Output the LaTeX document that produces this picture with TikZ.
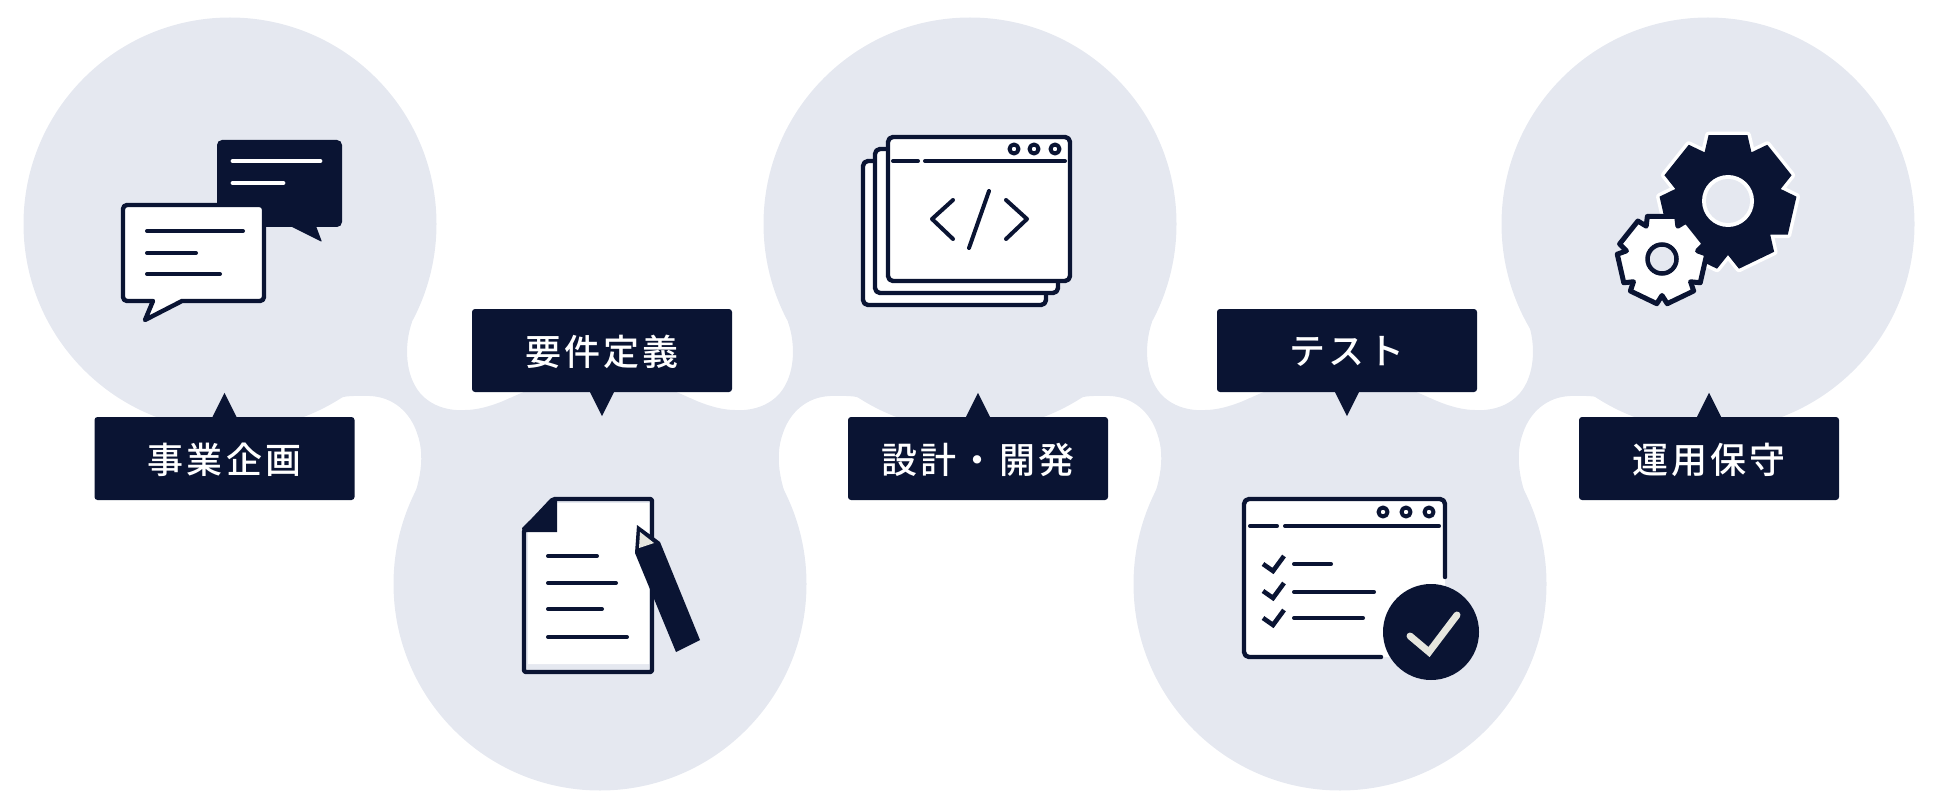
\documentclass[tikz,border=0pt]{standalone}
\usepackage{fontspec}
\newfontfamily\tagfont{Noto Sans CJK JP Medium}[LetterSpace=9]
\definecolor{navy}{HTML}{0A1433}
\definecolor{bubblegrey}{HTML}{E5E8F0}
\definecolor{ticklight}{HTML}{E6E6DE}

\newcommand{\neckshape}{%
  \fill[bubblegrey] (412,322) .. controls (404,345) and (405,375) .. (420,393)
    .. controls (432,407) and (450,411) .. (465,410)
    .. controls (480,410) and (497,404) .. (510,398) -- (600,584) -- (405,520)
    .. controls (418,490) and (427,460) .. (417,433)
    .. controls (410,412) and (393,397) .. (370,396)
    .. controls (355,396) and (345,395) .. (333,400) -- (230,224) -- cycle;}
\newcommand{\gearshape}[3]{%
  (270-25.7:#1) \foreach \a in {270,321.43,372.86,424.29,475.71,527.14,578.57} {
    -- (\a-25.7:#1) -- (\a-#3:#2) -- (\a+#3:#2)} -- cycle}

\begin{document}
\begin{tikzpicture}[x=1pt,y=-1pt]
    \tikzstyle{bubble}=[circle, fill=bubblegrey, minimum size=413pt, inner sep=0pt]
    \tikzstyle{tag}=[rectangle, fill=navy, text=white, rounded corners=3pt, minimum width=260pt, minimum height=83pt, inner sep=0pt, text depth=-1pt, font=\tagfont\fontsize{36}{40}\selectfont]
    \tikzstyle{pointer}=[fill=navy]
    \tikzstyle{heavy}=[draw=navy, line width=4.4pt, line cap=round, line join=round]
    \tikzstyle{fine}=[draw=navy, line width=4pt, line cap=round, line join=round]
    \tikzstyle{tick}=[draw=navy, line width=4.6pt, line join=miter]
    \useasboundingbox (0,0) rectangle (1950,810);

    % bubbles and the necks between them
    \node[bubble] (plan) at (230,224) {};
    \node[bubble] (reqs) at (600,584) {};
    \node[bubble] (build) at (970,224) {};
    \node[bubble] (test) at (1340,584) {};
    \node[bubble] (ops) at (1708,224) {};
    \neckshape
    \begin{scope}[xshift=1200pt,xscale=-1] \neckshape \end{scope}
    \begin{scope}[xshift=740pt] \neckshape \end{scope}
    \begin{scope}[xshift=1940pt,xscale=-1] \neckshape \end{scope}

    % tags
    \node[tag] (plantag) at (224.5,458.5) {事業企画};
    \node[tag] (reqstag) at (602,350.5) {要件定義};
    \node[tag] (buildtag) at (978,458.5) {設計・開発};
    \node[tag] (testtag) at (1347,350.5) {テスト};
    \node[tag] (opstag) at (1709,458.5) {運用保守};
    \fill[pointer] ([xshift=-12pt]plantag.north) -- ++(12,-24) -- ++(12,24) -- cycle;
    \fill[pointer] ([xshift=-12pt]reqstag.south) -- ++(12,24) -- ++(12,-24) -- cycle;
    \fill[pointer] ([xshift=-12pt]buildtag.north) -- ++(12,-24) -- ++(12,24) -- cycle;
    \fill[pointer] ([xshift=-12pt]testtag.south) -- ++(12,24) -- ++(12,-24) -- cycle;
    \fill[pointer] ([xshift=-12pt]opstag.north) -- ++(12,-24) -- ++(12,24) -- cycle;

    % speech balloons
    \fill[navy, rounded corners=5pt] (217,140) rectangle (342,227);
    \fill[navy, rounded corners=1pt] (290,226) -- (322,242) -- (316,226) -- cycle;
    \draw[white, line width=4.8pt, line cap=round] (233,161) -- (320,161) (233,183) -- (283,183);
    \draw[heavy, fill=white, rounded corners=4pt] (153,301) -- (123,301) -- (123,205) -- (264,205) -- (264,301) -- (190,301) [sharp corners] -- (182,301) -- (145,320) -- cycle;
    \draw[fine] (147,231) -- (243,231) (147,253) -- (196,253) (147,274) -- (220,274);

    % document and pencil
    \draw[heavy, fill=bubblegrey, rounded corners=2pt] (553,499) -- (652,499) -- (652,672) -- (524,672) -- (524,530) -- cycle;
    \fill[white] (528,532) -- (557,532) -- (557,503) -- (649,503) -- (649,664) -- (528,664) -- cycle;
    \fill[navy] (522,528) -- (553,498) -- (557,498) -- (557,532) -- (523,532) -- cycle;
    \draw[fine] (548,556) -- (597,556) (548,583) -- (616,583) (548,609) -- (602,609) (548,637) -- (627,637);
    \fill[navy] (637,525) -- (660,542) -- (700,640) -- (676,652) -- (635,553) -- cycle;
    \fill[ticklight] (640,532) -- (654,543) -- (639,548) -- cycle;

    % stacked windows
    \draw[heavy, fill=white, rounded corners=5pt] (863,161) rectangle (1046,305);
    \draw[heavy, fill=white, rounded corners=5pt] (875,149) rectangle (1058,293);
    \draw[heavy, fill=white, rounded corners=5pt] (888,137) rectangle (1070,281);
    \draw[fine] (893,161) -- (918,161) (925,161) -- (1065,161);
    \draw[fine] (1014,149) circle (4.5) (1034,149) circle (4.5) (1055,149) circle (4.5);
    \draw[fine] (953,200) -- (932,219) -- (953,239) (1006,200) -- (1027,219) -- (1006,239) (989,191) -- (969,248);

    % checklist window
    \fill[white, rounded corners=5pt] (1244,499) rectangle (1445,657);
    \draw[heavy, rounded corners=5pt] (1445,577) -- (1445,499) -- (1244,499) -- (1244,657) -- (1381,657);
    \draw[fine] (1250,526) -- (1277,526) (1285,526) -- (1439,526);
    \draw[fine] (1383,512) circle (4.5) (1406,512) circle (4.5) (1429,512) circle (4.5);
    \draw[fine] (1294,564) -- (1331,564) (1294,592) -- (1374,592) (1294,618) -- (1363,618);
    \draw[tick] (1263,564) -- (1273,571) -- (1284,556);
    \draw[tick] (1263,591) -- (1273,598) -- (1284,583);
    \draw[tick] (1263,618) -- (1273,625) -- (1284,610);
    \fill[navy] (1431,632) circle (48);
    \draw[ticklight, line width=7pt, line cap=round] (1410,636) -- (1429,652) -- (1457,615);

    % gears
    \begin{scope}[shift={(1728,201)}]
      \path[preaction={draw=white, line width=7pt, line join=round}, fill=navy] \gearshape{54}{68.6}{16.5};
      \fill[white] (0,0) circle (26);
      \fill[bubblegrey] (0,0) circle (22);
    \end{scope}
    \begin{scope}[shift={(1662,259)}]
      \draw[heavy, line width=5pt, fill=white] \gearshape{36.5}{45}{19};
      \draw[draw=navy, line width=4.5pt, fill=bubblegrey] (0,0) circle (14.5);
    \end{scope}
  \end{tikzpicture}
\end{document}
